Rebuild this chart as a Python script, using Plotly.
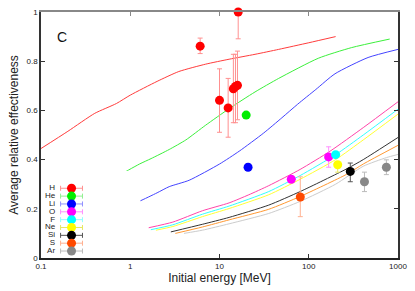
import plotly.graph_objects as go

FONT = "Liberation Sans, Arial, sans-serif"

# ---------------- model curves (energy MeV, effectiveness) ----------------
h_e = [0.1, 0.2, 0.4, 0.7, 1, 2, 3.5, 7, 12.8, 25, 46, 100, 200]
h_v = [0.445, 0.515, 0.588, 0.628, 0.662, 0.718, 0.758, 0.788, 0.808, 0.828, 0.848, 0.875, 0.90]
he_e = [0.41, 0.7, 1.27, 1.71, 2.73, 4.2, 7, 12.8, 25, 46, 128, 300, 807]
he_v = [0.281, 0.33, 0.382, 0.404, 0.441, 0.48, 0.54, 0.607, 0.675, 0.73, 0.812, 0.855, 0.89]
li_e = [0.71, 1, 1.27, 2, 2.73, 4.57, 10, 16.6, 31, 50, 75, 120, 197, 462, 1000]
li_v = [0.193, 0.218, 0.231, 0.265, 0.29, 0.316, 0.382, 0.434, 0.507, 0.57, 0.625, 0.685, 0.749, 0.815, 0.848]
o_e = [1.61, 3, 6.43, 12.8, 21.3, 35.6, 80, 173, 408, 1000]
o_v = [0.123, 0.146, 0.192, 0.224, 0.257, 0.294, 0.36, 0.434, 0.53, 0.635]
f_e = [1.7, 3, 6.43, 12.8, 35.6, 80, 200, 408, 1000]
f_v = [0.115, 0.135, 0.178, 0.211, 0.27, 0.335, 0.42, 0.5, 0.605]
ne_e = [1.94, 3, 6.43, 12.8, 35.6, 80, 200, 408, 1000]
ne_v = [0.113, 0.128, 0.168, 0.201, 0.257, 0.32, 0.40, 0.48, 0.585]
si_e = [2.85, 6.43, 12.8, 35.6, 80, 265, 408, 1000]
si_v = [0.106, 0.137, 0.165, 0.215, 0.27, 0.362, 0.40, 0.49]
s_e = [3.2, 6.43, 12.8, 35.6, 80, 265, 408, 1000]
s_v = [0.10, 0.126, 0.155, 0.198, 0.25, 0.34, 0.382, 0.458]
ar_e = [4.0, 6.43, 12.8, 35.6, 80, 200, 408, 741, 1000]
ar_v = [0.10, 0.113, 0.139, 0.181, 0.23, 0.30, 0.373, 0.408, 0.421]

# ---------------- measured points ----------------
h_pe = [6.07, 10.0, 12.5, 14.3, 15.1, 15.9, 16.2]
h_pv = [0.861, 0.641, 0.610, 0.688, 0.697, 0.702, 1.0]
h_up = [0.033, 0.128, 0.120, 0.140, 0.131, 0.139, 0.0]
h_dn = [0.030, 0.130, 0.119, 0.138, 0.147, 0.140, 0.109]
he_pe = [19.9]; he_pv = [0.581]; he_up = [0.01]; he_dn = [0.01]
li_pe = [20.9]; li_pv = [0.369]; li_up = [0.0]; li_dn = [0.0]
o_pe = [63.7, 167]; o_pv = [0.32, 0.411]; o_up = [0.008, 0.041]; o_dn = [0.008, 0.042]
f_pe = [200]; f_pv = [0.42]; f_up = [0.01]; f_dn = [0.01]
ne_pe = [211]; ne_pv = [0.379]; ne_up = [0.0]; ne_dn = [0.03]
si_pe = [292]; si_pv = [0.352]; si_up = [0.034]; si_dn = [0.042]
s_pe = [80.4]; s_pv = [0.248]; s_up = [0.082]; s_dn = [0.08]
ar_pe = [421, 741]; ar_pv = [0.31, 0.369]; ar_up = [0.039, 0.03]; ar_dn = [0.04, 0.03]

names = ["H", "He", "Li", "O", "F", "Ne", "Si", "S", "Ar"]
marker_colors = ["#ff0000", "#00ee00", "#0000ff", "#ff00ff", "#00ffff", "#ffff00", "#000000", "#ff4a00", "#888888"]
line_colors = ["#ff3c3c", "#3cf03c", "#4444ff", "#ff44aa", "#33ffff", "#ffff33", "#333333", "#ff9933", "#cccccc"]
err_colors = ["#ff9090", "#90f090", "#9090ff", "#ff90ff", "#90ffff", "#e8e860", "#555555", "#ffb090", "#bbbbbb"]

curves = [(h_e, h_v), (he_e, he_v), (li_e, li_v), (o_e, o_v), (f_e, f_v),
          (ne_e, ne_v), (si_e, si_v), (s_e, s_v), (ar_e, ar_v)]
points = [(h_pe, h_pv, h_up, h_dn), (he_pe, he_pv, he_up, he_dn), (li_pe, li_pv, li_up, li_dn),
          (o_pe, o_pv, o_up, o_dn), (f_pe, f_pv, f_up, f_dn), (ne_pe, ne_pv, ne_up, ne_dn),
          (si_pe, si_pv, si_up, si_dn), (s_pe, s_pv, s_up, s_dn), (ar_pe, ar_pv, ar_up, ar_dn)]

fig = go.Figure()

for (ce, cv), lc in zip(curves, line_colors):
    fig.add_trace(go.Scatter(x=ce, y=cv, mode="lines", line=dict(color=lc, width=1, shape="spline", smoothing=0.6),
                             showlegend=False, hoverinfo="skip"))

for (pe, pv, up, dn), mc, ec in zip(points, marker_colors, err_colors):
    fig.add_trace(go.Scatter(
        x=pe, y=pv, mode="markers", cliponaxis=False,
        marker=dict(color=mc, size=9, line=dict(width=0)),
        error_y=dict(type="data", array=up, arrayminus=dn, color=ec, thickness=1, width=2.5),
        showlegend=False))

# ---------------- hand-made legend in its own small pixel-unit axes ----------------
W, H = 415, 291
ML, MR, MT, MB = 41, 15, 8, 29
pw, ph = W - ML - MR, H - MT - MB
leg_w, leg_h = 100.0, 90.0
row_step = 8.1
top_row = 72.0
rows_y = [top_row - i * row_step for i in range(len(names))]
mk_x = 30.7
for i, (nm, mc, ec) in enumerate(zip(names, marker_colors, err_colors)):
    fig.add_trace(go.Scatter(
        x=[mk_x], y=[rows_y[i]], xaxis="x3", yaxis="y3", mode="markers",
        marker=dict(color=mc, size=9),
        error_x=dict(type="constant", value=11, color=ec, thickness=1, width=2.5),
        showlegend=False, hoverinfo="skip"))
fig.add_trace(go.Scatter(
    x=[mk_x - 16.5] * len(names), y=rows_y, xaxis="x3", yaxis="y3", mode="text",
    text=names, textposition="middle left",
    textfont=dict(family=FONT, size=8, color="#222"),
    showlegend=False, hoverinfo="skip"))

fig.update_layout(
    width=W, height=H,
    margin=dict(l=ML, r=MR, t=MT, b=MB),
    paper_bgcolor="white", plot_bgcolor="white",
    font=dict(family=FONT, color="#222"),
    xaxis=dict(type="log", range=[-1, 3], tickvals=[0.1, 1, 10, 100, 1000],
               ticktext=["0.1", "1", "10", "100", "1000"],
               ticks="inside", ticklen=4, tickcolor="#333", showgrid=False, zeroline=False,
               showline=True, linecolor="#222", linewidth=1.5,
               tickfont=dict(size=8, color="#222"),
               title=dict(text="Initial energy [MeV]", font=dict(size=12, color="#222"), standoff=3)),
    xaxis2=dict(type="log", range=[-1, 3], overlaying="x", side="top",
                tickvals=[1, 10, 100], showticklabels=False, ticks="inside", ticklen=4,
                tickcolor="#888", showgrid=False, zeroline=False,
                showline=True, linecolor="#888", linewidth=2),
    yaxis=dict(range=[0, 1], tickvals=[0, 0.2, 0.4, 0.6, 0.8, 1],
               ticktext=["0", "0.2", "0.4", "0.6", "0.8", "1"],
               ticks="inside", ticklen=4, tickcolor="#333", showgrid=False, zeroline=False,
               showline=True, linecolor="#333", linewidth=1.5, mirror="ticks",
               tickfont=dict(size=8, color="#222"),
               title=dict(text="Average relative effectiveness", font=dict(size=12, color="#222"), standoff=5)),
    xaxis3=dict(domain=[0, leg_w / pw], range=[0, leg_w], anchor="y3", visible=False, fixedrange=True),
    yaxis3=dict(domain=[0, leg_h / ph], range=[0, leg_h], anchor="x3", visible=False, fixedrange=True),
    annotations=[dict(text="C", x=0.058, y=0.90, xref="paper", yref="paper", showarrow=False,
                      font=dict(size=14, color="#111"), xanchor="center", yanchor="middle")],
)

fig.add_trace(go.Scatter(x=[None], y=[None], xaxis="x2", yaxis="y", showlegend=False))

fig.write_html(
    "out.html", config={"displayModeBar": False},
    post_script=("document.body.style.margin='0';document.body.style.padding='0';"
                 "var gd=document.getElementById('{plot_id}');"
                 "gd.style.position='absolute';gd.style.top='0px';gd.style.left='0px';"))
